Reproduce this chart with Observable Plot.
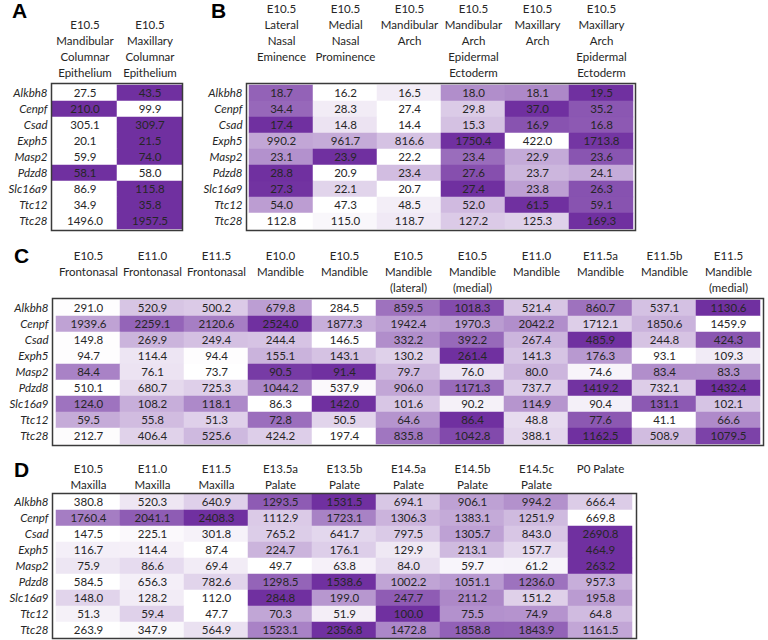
<!DOCTYPE html>
<html><head><meta charset="utf-8">
<script src="https://cdn.jsdelivr.net/npm/d3@7"></script>
<script src="https://cdn.jsdelivr.net/npm/@observablehq/plot@0.6"></script>
<style>
body{margin:0;background:#fff;}
#root{position:relative;width:768px;height:640px;overflow:hidden;font-family:Lato,sans-serif;}
.panel{position:absolute;}
.letter{position:absolute;font-family:"Liberation Sans",Arial,sans-serif;font-weight:bold;font-size:21px;line-height:1;color:#000;}
</style></head><body><div id="root"></div>
<script>
const genes = ["Alkbh8","Cenpf","Csad","Exph5","Masp2","Pdzd8","Slc16a9","Ttc12","Ttc28"];

const colsA = ["E10.5\nMandibular\nColumnar\nEpithelium","E10.5\nMaxillary\nColumnar\nEpithelium"];
const valsA = [
  [27.5,43.5],[210.0,99.9],[305.1,309.7],[20.1,21.5],[59.9,74.0],
  [58.1,58.0],[86.9,115.8],[34.9,35.8],[1496.0,1957.5]
];

const colsB = ["E10.5\nLateral\nNasal\nEminence","E10.5\nMedial\nNasal\nProminence","E10.5\nMandibular\nArch",
  "E10.5\nMandibular\nArch\nEpidermal\nEctoderm","E10.5\nMaxillary\nArch","E10.5\nMaxillary\nArch\nEpidermal\nEctoderm"];
const valsB = [
  [18.7,16.2,16.5,18.0,18.1,19.5],
  [34.4,28.3,27.4,29.8,37.0,35.2],
  [17.4,14.8,14.4,15.3,16.9,16.8],
  [990.2,961.7,816.6,1750.4,422.0,1713.8],
  [23.1,23.9,22.2,23.4,22.9,23.6],
  [28.8,20.9,23.4,27.6,23.7,24.1],
  [27.3,22.1,20.7,27.4,23.8,26.3],
  [54.0,47.3,48.5,52.0,61.5,59.1],
  [112.8,115.0,118.7,127.2,125.3,169.3]
];

const colsC = ["E10.5\nFrontonasal","E11.0\nFrontonasal","E11.5\nFrontonasal","E10.0\nMandible","E10.5\nMandible",
  "E10.5\nMandible\n(lateral)","E10.5\nMandible\n(medial)","E11.0\nMandible","E11.5a\nMandible","E11.5b\nMandible","E11.5\nMandible\n(medial)"];
const valsC = [
  [291.0,520.9,500.2,679.8,284.5,859.5,1018.3,521.4,860.7,537.1,1130.6],
  [1939.6,2259.1,2120.6,2524.0,1877.3,1942.4,1970.3,2042.2,1712.1,1850.6,1459.9],
  [149.8,269.9,249.4,244.4,146.5,332.2,392.2,267.4,485.9,244.8,424.3],
  [94.7,114.4,94.4,155.1,143.1,130.2,261.4,141.3,176.3,93.1,109.3],
  [84.4,76.1,73.7,90.5,91.4,79.7,76.0,80.0,74.6,83.4,83.3],
  [510.1,680.7,725.3,1044.2,537.9,906.0,1171.3,737.7,1419.2,732.1,1432.4],
  [124.0,108.2,118.1,86.3,142.0,101.6,90.2,114.9,90.4,131.1,102.1],
  [59.5,55.8,51.3,72.8,50.5,64.6,86.4,48.8,77.6,41.1,66.6],
  [212.7,406.4,525.6,424.2,197.4,835.8,1042.8,388.1,1162.5,508.9,1079.5]
];

const colsD = ["E10.5\nMaxilla","E11.0\nMaxilla","E11.5\nMaxilla","E13.5a\nPalate","E13.5b\nPalate",
  "E14.5a\nPalate","E14.5b\nPalate","E14.5c\nPalate","P0 Palate"];
const valsD = [
  [380.8,520.3,640.9,1293.5,1531.5,694.1,906.1,994.2,666.4],
  [1760.4,2041.1,2408.3,1112.9,1723.1,1306.3,1383.1,1251.9,669.8],
  [147.5,225.1,301.8,765.2,641.7,797.5,1305.7,843.0,2690.8],
  [116.7,114.4,87.4,224.7,176.1,129.9,213.1,157.7,464.9],
  [75.9,86.6,69.4,49.7,63.8,84.0,59.7,61.2,263.2],
  [584.5,656.3,782.6,1298.5,1538.6,1002.2,1051.1,1236.0,957.3],
  [148.0,128.2,112.0,284.8,199.0,247.7,211.2,151.2,195.8],
  [51.3,59.4,47.7,70.3,51.9,100.0,75.5,74.9,64.8],
  [263.9,347.9,564.9,1523.1,2356.8,1472.8,1858.8,1843.9,1161.5]
];

const root = document.getElementById("root");
const FS = 11.5;

function panel(cols, vals, o) {
  const data = [];
  vals.forEach((row, i) => {
    const mn = d3.min(row), mx = d3.max(row);
    row.forEach((v, j) => data.push({gene: genes[i], col: cols[j], v, t: (v - mn) / (mx - mn)}));
  });
  const headLines = [];
  cols.forEach(c => c.split("\n").forEach((line, k) => headLines.push({col: c, line, k})));
  const maxK = d3.max(headLines, d => d.k);
  const headMarks = d3.range(maxK + 1).map(k =>
    Plot.text(headLines.filter(d => d.k === k), {
      x: "col", text: "line", frameAnchor: "top", lineAnchor: "middle",
      dy: o.head - o.mt + k * 16, fontSize: FS, fill: "#262626"
    })
  );
  const chart = Plot.plot({
    width: o.width, height: o.height,
    marginTop: o.mt, marginLeft: o.ml, marginRight: o.mr, marginBottom: o.mb,
    x: {domain: cols, padding: 0, axis: null},
    y: {domain: genes, padding: 0, axis: null},
    color: {type: "linear", domain: [0, 1], range: ["#ffffff", "#7030A0"], interpolate: "rgb"},
    style: {fontFamily: "Lato, sans-serif", fontSize: FS + "px", background: "transparent", color: "#262626", overflow: "visible"},
    marks: [
      Plot.cell(data, {x: "col", y: "gene", fill: "t", stroke: "t", strokeWidth: 0.5}),
      Plot.text(data, {x: "col", y: "gene", text: d => d.v.toFixed(1), fill: "#262626", fontSize: FS}),
      Plot.frame({stroke: "#3a3a3a", strokeWidth: 1.5}),
      Plot.axisY({tickSize: 0, tickPadding: 4, fontStyle: "italic", fontSize: FS, label: null, color: "#262626"}),
      ...headMarks
    ]
  });
  chart.classList.add("panel");
  chart.style.left = o.left + "px";
  chart.style.top = o.top + "px";
  root.appendChild(chart);
}

function letter(t, left, top) {
  const d = document.createElement("div");
  d.className = "letter";
  d.textContent = t;
  d.style.left = left + "px";
  d.style.top = top + "px";
  root.appendChild(d);
}

// head = y (within svg) of the first header line's centre
panel(colsA, valsA, {left: 0, top: 0, width: 190, height: 235, mt: 83, ml: 51, mr: 8, mb: 5, head: 25});
panel(colsB, valsB, {left: 190, top: 0, width: 455, height: 235, mt: 83, ml: 56, mr: 10, mb: 5, head: 8.5});
panel(colsC, valsC, {left: 0, top: 240, width: 768, height: 210, mt: 58, ml: 52, mr: 5, mb: 5, head: 16});
panel(colsD, valsD, {left: 0, top: 450, width: 640, height: 190, mt: 43, ml: 52, mr: 4, mb: 2, head: 19});

letter("A", 12, 0);
letter("B", 211, 0);
letter("C", 14, 245);
letter("D", 14, 459);
</script></body></html>
